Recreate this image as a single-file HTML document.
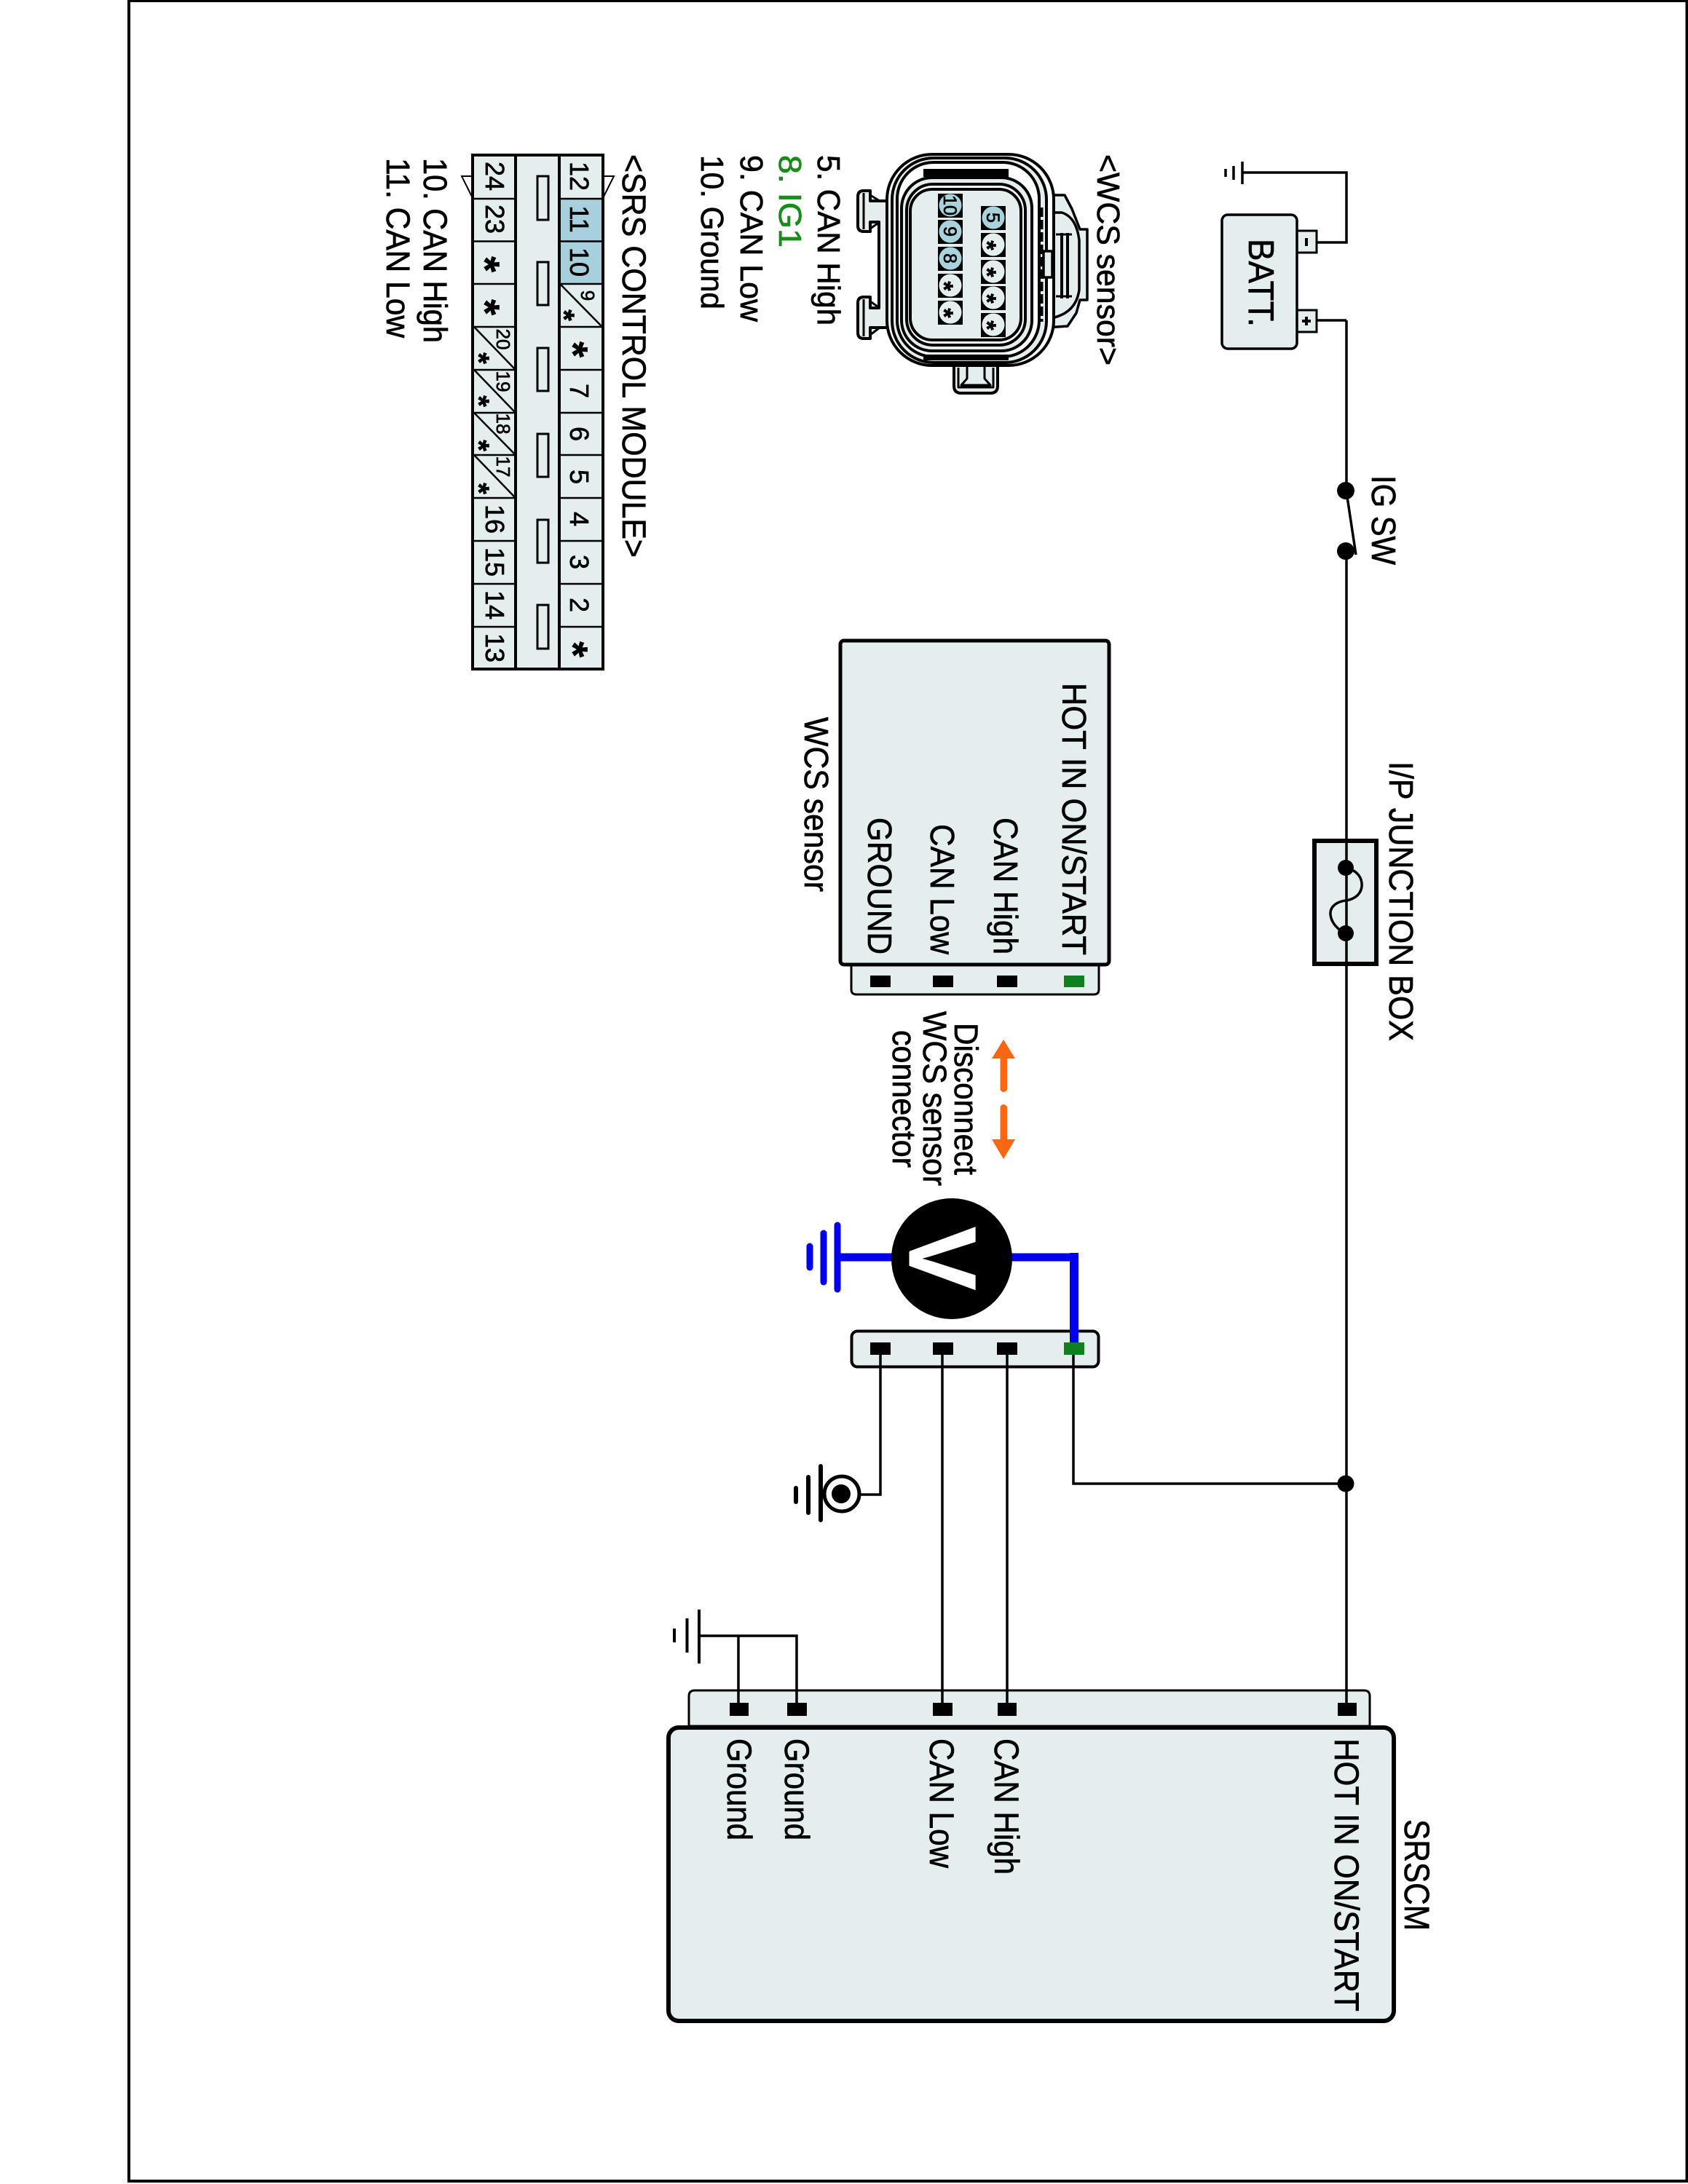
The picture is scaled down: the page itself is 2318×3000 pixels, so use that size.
<!DOCTYPE html>
<html><head><meta charset="utf-8"><title>WCS sensor circuit</title>
<style>html,body{margin:0;padding:0;background:#fff}svg{display:block}
text{font-family:"Liberation Sans",sans-serif;fill:#000;font-size:44px;stroke:#000;stroke-width:.7px}</style></head><body>
<svg xmlns="http://www.w3.org/2000/svg" width="2318" height="3000" viewBox="0 0 2318 3000">
<rect width="2318" height="3000" fill="#fff"/>
<path d="M177,1V2996H2316.5V1Z" fill="none" stroke="#000" stroke-width="4"/>

<!-- battery -->
<rect x="1781" y="317" width="27" height="30" fill="#e5eeef" stroke="#000" stroke-width="3"/>
<rect x="1781" y="426" width="27" height="30" fill="#e5eeef" stroke="#000" stroke-width="3"/>
<rect x="1678" y="295" width="103" height="184" rx="8" fill="#e5eeef" stroke="#000" stroke-width="3.5"/>
<path d="M1706,237H1849V333H1808M1808,440H1849" fill="none" stroke="#000" stroke-width="3.5"/>
<path d="M1706,222V253M1694,228V247M1683,232V243" stroke="#000" stroke-width="3.500" fill="none"/>
<path d="M1794,327V338" stroke="#000" stroke-width="4"/>
<path d="M1794,435V447M1788,441H1800" stroke="#000" stroke-width="4"/>
<text transform="translate(1715 328) rotate(90)" font-size="49" textLength="121" lengthAdjust="spacingAndGlyphs" style="font-size:49px">BATT.</text>

<!-- junction box -->
<rect x="1805" y="1155" width="85" height="169" fill="#e5eeef" stroke="#000" stroke-width="6"/>
<path d="M1848,1192C1866,1196 1871,1208 1870,1218C1868,1232 1855,1236 1848,1237C1838,1238 1826,1244 1827,1256C1828,1268 1838,1278 1848,1282" fill="none" stroke="#000" stroke-width="3.5"/>
<text transform="translate(1908 1046) rotate(90)" textLength="384" lengthAdjust="spacingAndGlyphs" style="font-size:46px">I/P JUNCTION BOX</text>

<!-- WCS sensor box -->
<path d="M1169,1325V1359Q1169,1366 1176,1366H1502Q1509,1366 1509,1359V1325Z" fill="#e5eeef" stroke="#000" stroke-width="3"/>
<rect x="1154" y="880" width="369" height="445" rx="5" fill="#e5eeef" stroke="#000" stroke-width="5"/>
<rect x="1195" y="1340" width="28" height="16"/><rect x="1281" y="1340" width="28" height="16"/><rect x="1369" y="1340" width="28" height="16"/><rect x="1461" y="1340" width="28" height="16" fill="#0f7f1f"/>
<text transform="translate(1459 938) rotate(90)" textLength="374" lengthAdjust="spacingAndGlyphs" style="font-size:46px">HOT IN ON/START</text>
<text transform="translate(1365 1123) rotate(90)" textLength="188" lengthAdjust="spacingAndGlyphs" style="font-size:46px">CAN High</text>
<text transform="translate(1278 1132) rotate(90)" textLength="179" lengthAdjust="spacingAndGlyphs" style="font-size:46px">CAN Low</text>
<text transform="translate(1192 1123) rotate(90)" textLength="188" lengthAdjust="spacingAndGlyphs" style="font-size:46px">GROUND</text>
<text transform="translate(1105 985) rotate(90)" textLength="240" lengthAdjust="spacingAndGlyphs" style="font-size:46px">WCS sensor</text>

<!-- disconnect -->
<path d="M1378,1428L1362,1454H1373.500V1497Q1378,1503 1383,1497V1454H1394Z" fill="#ff6611"/>
<path d="M1378,1592L1362,1565H1373.500V1520Q1378,1514 1383,1520V1565H1394Z" fill="#ff6611"/>
<text transform="translate(1311 1405) rotate(90)" textLength="209" lengthAdjust="spacingAndGlyphs" style="font-size:45px">Disconnect</text>
<text transform="translate(1268 1389) rotate(90)" textLength="240" lengthAdjust="spacingAndGlyphs" style="font-size:45px">WCS sensor</text>
<text transform="translate(1226 1415) rotate(90)" textLength="189" lengthAdjust="spacingAndGlyphs" style="font-size:45px">connector</text>

<!-- second connector -->
<rect x="1169.500" y="1828.500" width="339" height="49" rx="8" fill="#e5eeef" stroke="#000" stroke-width="4"/>

<!-- SRSCM -->
<path d="M946,2371V2330Q946,2322 954,2322H1873Q1881,2322 1881,2330V2371Z" fill="#e5eeef" stroke="#000" stroke-width="3"/>
<rect x="918" y="2373" width="996" height="403" rx="14" fill="#e5eeef" stroke="#000" stroke-width="6"/>
<text transform="translate(999 2388) rotate(90)" textLength="140" lengthAdjust="spacingAndGlyphs" style="font-size:47px">Ground</text>
<text transform="translate(1078 2388) rotate(90)" textLength="140" lengthAdjust="spacingAndGlyphs" style="font-size:47px">Ground</text>
<text transform="translate(1277 2388) rotate(90)" textLength="178" lengthAdjust="spacingAndGlyphs" style="font-size:47px">CAN Low</text>
<text transform="translate(1366 2388) rotate(90)" textLength="187" lengthAdjust="spacingAndGlyphs" style="font-size:47px">CAN High</text>
<text transform="translate(1833 2388) rotate(90)" textLength="375" lengthAdjust="spacingAndGlyphs" style="font-size:47px">HOT IN ON/START</text>
<text transform="translate(1929 2499) rotate(90)" textLength="153" lengthAdjust="spacingAndGlyphs" style="font-size:48px">SRSCM</text>

<!-- wiring (drawn above connector fills) -->
<path d="M1849,440V2348M1474,1861V2038H1848M1294,1861V2340M1383,1861V2340M1209,1861V2053H1182" fill="none" stroke="#000" stroke-width="3.5"/>
<path d="M960,2247H1094V2340M1014,2247V2340" fill="none" stroke="#000" stroke-width="3.5"/>
<path d="M960,2211V2285M943.5,2223V2270M926,2237V2256" stroke="#000" stroke-width="4" fill="none"/>
<rect x="1002" y="2339" width="26" height="18"/><rect x="1081" y="2339" width="27" height="18"/><rect x="1281" y="2339" width="27" height="18"/><rect x="1370" y="2339" width="26" height="18"/><rect x="1837" y="2339" width="26" height="18"/>
<rect x="1195" y="1844" width="28" height="17"/><rect x="1281" y="1844" width="28" height="17"/><rect x="1369" y="1844" width="28" height="17"/>
<circle cx="1848" cy="2038" r="11.5"/>

<!-- IG SW -->
<rect x="1845" y="685" width="7" height="62" fill="#fff"/>
<circle cx="1848" cy="674" r="12"/><circle cx="1848" cy="757" r="12"/>
<path d="M1849,676L1862,762" stroke="#000" stroke-width="3.5"/>
<text transform="translate(1884 653) rotate(90)" textLength="123" lengthAdjust="spacingAndGlyphs" style="font-size:46px">IG SW</text>
<circle cx="1848" cy="1192" r="11"/><circle cx="1848" cy="1282" r="11"/>

<!-- stud ground -->
<circle cx="1156" cy="2052" r="24" fill="#fff" stroke="#000" stroke-width="5"/>
<circle cx="1155" cy="2052" r="13"/>
<path d="M1127,2014V2088M1110,2029V2078" stroke="#000" stroke-width="6" stroke-linecap="round"/>
<path d="M1093,2044V2063" stroke="#000" stroke-width="6" stroke-linecap="round"/>

<!-- meter -->
<path d="M1150,1727H1475V1850" fill="none" stroke="#0000ee" stroke-width="11"/>
<path d="M1469,1721H1481V1848H1469Z" fill="#0000ee"/>
<path d="M1150,1683V1771" stroke="#0000ee" stroke-width="9" stroke-linecap="round"/>
<path d="M1131,1694V1761" stroke="#0000ee" stroke-width="9" stroke-linecap="round"/>
<path d="M1112,1712V1741" stroke="#0000ee" stroke-width="9" stroke-linecap="round"/>
<rect x="1461" y="1844" width="28" height="17" fill="#0f7f1f"/>
<circle cx="1307" cy="1729" r="83"/>
<text transform="translate(1249 1685) rotate(90)" style="fill:#fff;stroke:#fff;stroke-width:1px;font-size:131px;font-weight:bold">V</text>

<!-- WCS header title + legend -->
<text transform="translate(1507 212) rotate(90)" textLength="290" lengthAdjust="spacingAndGlyphs" style="font-size:44px">&lt;WCS sensor&gt;</text>
<text transform="translate(1123 213) rotate(90)" textLength="234" lengthAdjust="spacingAndGlyphs" style="font-size:44px">5. CAN High</text>
<text transform="translate(1070 213) rotate(90)" textLength="127" lengthAdjust="spacingAndGlyphs" style="font-size:44px;fill:#1a8a1a;stroke:#1a8a1a">8. IG1</text>
<text transform="translate(1017 213) rotate(90)" textLength="229" lengthAdjust="spacingAndGlyphs" style="font-size:44px">9. CAN Low</text>
<text transform="translate(963 213) rotate(90)" textLength="212" lengthAdjust="spacingAndGlyphs" style="font-size:44px">10. Ground</text>

<!-- WCS connector face -->
<g stroke="#000" stroke-width="4" stroke-linejoin="round">
<path d="M1437,268L1462,268L1472,287L1483,315H1493V412H1483L1478,430L1466,448L1437,450Z" fill="#e5eeef" stroke-width="3.500"/>
<path d="M1437,292H1458Q1478,298 1482,330V398Q1478,428 1448,436H1437" fill="none" stroke-width="3.500"/>
<path d="M1458,320V410M1466,320V410" fill="none"/>
<path d="M1450,322H1472M1450,407H1472" fill="none" stroke-width="3"/>
<path d="M1222,276H1195V262H1186Q1178,262 1178,270V310Q1178,318 1186,318H1195V305H1207V423H1195V408H1186Q1178,408 1178,416V457Q1178,465 1186,465H1195V450H1225V276Z" fill="#e5eeef"/>
<path d="M1186,265V315M1186,411V462M1195,268L1208,276M1195,314L1208,305M1195,414L1208,423M1195,460L1208,450" fill="none" stroke-width="3"/>
<path d="M1310,495V530Q1310,540 1320,540H1360Q1370,540 1370,530V495Z" fill="#e5eeef"/>
<path d="M1316,505V532H1364V505" fill="none" stroke-width="3"/>
<path d="M1328,500V520L1320,529H1360L1352,520V500" fill="#e5eeef" stroke-width="3"/>
<rect x="1218" y="212" width="229" height="290" rx="62" fill="#fff"/>
<rect x="1225" y="217" width="212" height="281" rx="57" fill="#e5eeef"/>
<rect x="1232" y="223" width="195" height="267" rx="50" fill="#fff"/>
<rect x="1238" y="244" width="179" height="238" rx="42" fill="#e5eeef"/>
<rect x="1245" y="253" width="163" height="221" rx="36" fill="#fff"/>
<rect x="1250" y="260" width="152" height="207" rx="30" fill="#e5eeef"/>
</g>
<rect x="1268" y="232" width="117" height="11"/>
<rect x="1268" y="487" width="117" height="8"/>
<path d="M1429,285V442" stroke="#000" stroke-width="7" stroke-dasharray="13 4"/>
<rect x="1433" y="345" width="12" height="36" fill="#e5eeef" stroke="#000" stroke-width="3.500"/>

<!-- pins -->
<g>
<rect x="1288" y="266" width="34" height="33"/><rect x="1288" y="302" width="34" height="33"/><rect x="1288" y="339" width="34" height="33"/><rect x="1288" y="376" width="34" height="33"/><rect x="1288" y="413" width="34" height="33"/>
<rect x="1347" y="283" width="34" height="33"/><rect x="1347" y="320" width="34" height="33"/><rect x="1347" y="357" width="34" height="33"/><rect x="1347" y="393" width="34" height="33"/><rect x="1347" y="430" width="34" height="33"/>
<circle cx="1305" cy="282" r="15.500" fill="#a9d3dc"/><circle cx="1305" cy="318" r="15.500" fill="#a9d3dc"/><circle cx="1305" cy="355" r="15.500" fill="#a9d3dc"/><circle cx="1305" cy="392" r="15.500" fill="#e5eeef"/><circle cx="1305" cy="429" r="15.500" fill="#e5eeef"/>
<circle cx="1364" cy="299" r="15.500" fill="#a9d3dc"/><circle cx="1364" cy="336" r="15.500" fill="#e5eeef"/><circle cx="1364" cy="373" r="15.500" fill="#e5eeef"/><circle cx="1364" cy="409" r="15.500" fill="#e5eeef"/><circle cx="1364" cy="446" r="15.500" fill="#e5eeef"/>
</g>
<g text-anchor="middle">
<text transform="translate(1296 282) rotate(90)" style="font-size:25px">10</text>
<text transform="translate(1296 318) rotate(90)" style="font-size:25px">9</text>
<text transform="translate(1296 355) rotate(90)" style="font-size:25px">8</text>
<text transform="translate(1355 299) rotate(90)" style="font-size:25px">5</text>
<text transform="translate(1285 393) rotate(90)" style="font-size:34px;font-weight:bold">*</text>
<text transform="translate(1285 430) rotate(90)" style="font-size:34px;font-weight:bold">*</text>
<text transform="translate(1344 337) rotate(90)" style="font-size:34px;font-weight:bold">*</text>
<text transform="translate(1344 374) rotate(90)" style="font-size:34px;font-weight:bold">*</text>
<text transform="translate(1344 410) rotate(90)" style="font-size:34px;font-weight:bold">*</text>
<text transform="translate(1344 447) rotate(90)" style="font-size:34px;font-weight:bold">*</text>
</g>

<!-- SRS control module -->
<text transform="translate(855 212) rotate(90)" textLength="554" lengthAdjust="spacingAndGlyphs" style="font-size:45px">&lt;SRS CONTROL MODULE&gt;</text>
<text transform="translate(582 217) rotate(90)" textLength="254" lengthAdjust="spacingAndGlyphs" style="font-size:45px">10. CAN High</text>
<text transform="translate(531 217) rotate(90)" textLength="247" lengthAdjust="spacingAndGlyphs" style="font-size:45px">11. CAN Low</text>
<path d="M828,242H843L828,272ZM649,242H634L649,272Z" fill="#fff" stroke="#000" stroke-width="2"/>
<rect x="650" y="214" width="177" height="705" fill="#e5eeef"/>
<rect x="768" y="272" width="60" height="118" fill="#a8d0dc"/>
<path d="M649,273H708M649,331.500H708M649,390H708M649,449H708M649,508H708M649,567H708M649,625H708M649,684H708M649,743H708M649,802H708M649,861H708M768,273H828M768,331.500H828M768,390H828M768,449H828M768,508H828M768,567H828M768,625H828M768,684H828M768,743H828M768,802H828M768,861H828" stroke="#000" stroke-width="2.500"/>
<path d="M770,391L826,448M651,449L707,507M651,508L707,566M651,567L707,624M651,625L707,683" stroke="#000" stroke-width="2.500"/>
<rect x="649" y="213" width="179" height="706" fill="none" stroke="#000" stroke-width="4"/>
<path d="M708,213V919M768,213V919" stroke="#000" stroke-width="4"/>
<g fill="#e5eeef" stroke="#000" stroke-width="3">
<rect x="738" y="242" width="15" height="60"/><rect x="738" y="360" width="15" height="59"/><rect x="738" y="478" width="15" height="59"/><rect x="738" y="596" width="15" height="59"/><rect x="738" y="714" width="15" height="59"/><rect x="738" y="831" width="15" height="60"/>
</g>
<g text-anchor="middle">
<text transform="translate(783 242) rotate(90)" style="font-size:36px">12</text>
<text transform="translate(783 301) rotate(90)" style="font-size:36px">11</text>
<text transform="translate(783 360) rotate(90)" style="font-size:36px">10</text>
<text transform="translate(768 480) rotate(90)" style="font-size:56px;font-weight:bold">*</text>
<text transform="translate(783 537) rotate(90)" style="font-size:36px">7</text>
<text transform="translate(783 596) rotate(90)" style="font-size:36px">6</text>
<text transform="translate(783 655) rotate(90)" style="font-size:36px">5</text>
<text transform="translate(783 713) rotate(90)" style="font-size:36px">4</text>
<text transform="translate(783 772) rotate(90)" style="font-size:36px">3</text>
<text transform="translate(783 831) rotate(90)" style="font-size:36px">2</text>
<text transform="translate(768 892) rotate(90)" style="font-size:56px;font-weight:bold">*</text>
<text transform="translate(667 242) rotate(90)" style="font-size:36px">24</text>
<text transform="translate(667 301) rotate(90)" style="font-size:36px">23</text>
<text transform="translate(647 363) rotate(90)" style="font-size:56px;font-weight:bold">*</text>
<text transform="translate(647 422) rotate(90)" style="font-size:56px;font-weight:bold">*</text>
<text transform="translate(667 713) rotate(90)" style="font-size:36px">16</text>
<text transform="translate(667 772) rotate(90)" style="font-size:36px">15</text>
<text transform="translate(667 831) rotate(90)" style="font-size:36px">14</text>
<text transform="translate(667 890) rotate(90)" style="font-size:36px">13</text>
<text transform="translate(798 406) rotate(90)" style="font-size:26px">9</text>
<text transform="translate(682 466) rotate(90)" style="font-size:26px">20</text>
<text transform="translate(682 524) rotate(90)" style="font-size:26px">19</text>
<text transform="translate(682 582) rotate(90)" style="font-size:26px">18</text>
<text transform="translate(682 641) rotate(90)" style="font-size:26px">17</text>
<text transform="translate(761 433) rotate(90)" style="font-size:40px;font-weight:bold">*</text>
<text transform="translate(644 492) rotate(90)" style="font-size:40px;font-weight:bold">*</text>
<text transform="translate(644 551) rotate(90)" style="font-size:40px;font-weight:bold">*</text>
<text transform="translate(644 612) rotate(90)" style="font-size:40px;font-weight:bold">*</text>
<text transform="translate(644 671) rotate(90)" style="font-size:40px;font-weight:bold">*</text>
</g>
</svg>
</body></html>
